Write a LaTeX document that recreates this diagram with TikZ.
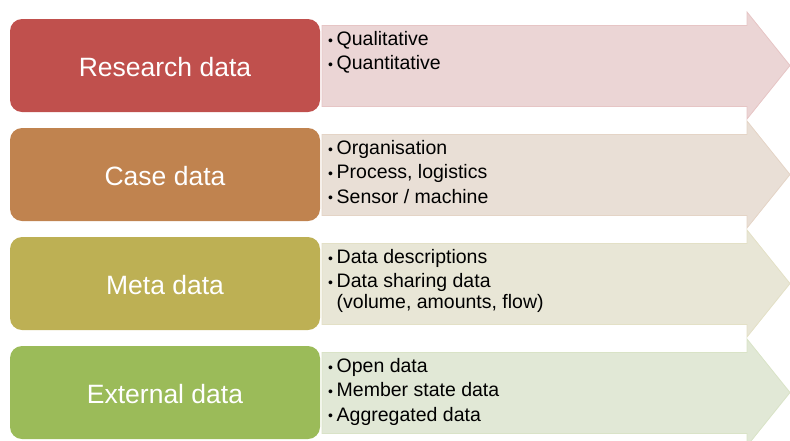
\documentclass[tikz,border=0pt]{standalone}
\usepackage{fontspec}
\setmainfont{Liberation Sans}
\definecolor{cRes}{HTML}{C0504D}
\definecolor{cCase}{HTML}{C0834F}
\definecolor{cMeta}{HTML}{BDB054}
\definecolor{cExt}{HTML}{9BBB59}
\definecolor{aRes}{HTML}{EBD5D5}
\definecolor{aCase}{HTML}{E9DFD6}
\definecolor{aMeta}{HTML}{E8E6D6}
\definecolor{aExt}{HTML}{E1E8D6}
\newcommand{\bul}{\makebox[8.5pt][l]{\raisebox{0.5pt}{\fontsize{14}{14}\selectfont•}}}
\newcommand{\ind}{\hspace*{8.5pt}}
\newcommand{\itemlist}[1]{\parbox[t]{400pt}{\fontsize{19.5}{24.3}\selectfont\raggedright #1}}
\begin{document}
\begin{tikzpicture}[x=1pt,y=-1pt,
  catbox/.style={rounded corners=12pt, minimum width=310pt, minimum height=93pt,
    inner sep=0pt, text=white, font=\fontsize{26.5}{30}\selectfont},
  arrowshape/.style={line width=0.8pt, line join=miter},
  itemtext/.style={anchor=base west, inner sep=0pt, text=black}]
\useasboundingbox (0,0) rectangle (790,440);
% arrows
\foreach \t/\c/\b in {19/aRes/cRes,128/aCase/cCase,237/aMeta/cMeta,346/aExt/cExt}{
  \draw[arrowshape, fill=\c, draw=\c!88!\b]
    (322,\t+6.5) -- (747,\t+6.5) -- (747,\t-7) -- (790,\t+46.5)
    -- (747,\t+100) -- (747,\t+87.5) -- (322,\t+87.5) -- cycle;
}
% category boxes
\node[catbox, fill=cRes]  (research) at (165,65.5)  {};
\node[catbox, fill=cCase] (case)     at (165,174.5) {};
\node[catbox, fill=cMeta] (meta)     at (165,283.5) {};
\node[catbox, fill=cExt]  (external) at (165,392.5) {};
\foreach \n/\l in {research/Research data,case/Case data,meta/Meta data,external/External data}{
  \node[text=white, inner sep=0pt, font=\fontsize{26.5}{30}\selectfont] (\n label)
    at ([yshift=-2pt]\n.center) {\l};
}
% item lists
\node[itemtext] (researchitems) at (328,45.5)
  {\itemlist{\bul Qualitative\\ \bul Quantitative}};
\node[itemtext] (caseitems) at (328,154.5)
  {\itemlist{\bul Organisation\\ \bul Process, logistics\\ \bul Sensor / machine}};
\node[itemtext] (metaitems) at (328,263.5)
  {\itemlist{\bul Data descriptions\\ \bul Data sharing data\\[-4pt] \ind(volume, amounts, flow)}};
\node[itemtext] (externalitems) at (328,372.5)
  {\itemlist{\bul Open data\\ \bul Member state data\\ \bul Aggregated data}};
\end{tikzpicture}
\end{document}
